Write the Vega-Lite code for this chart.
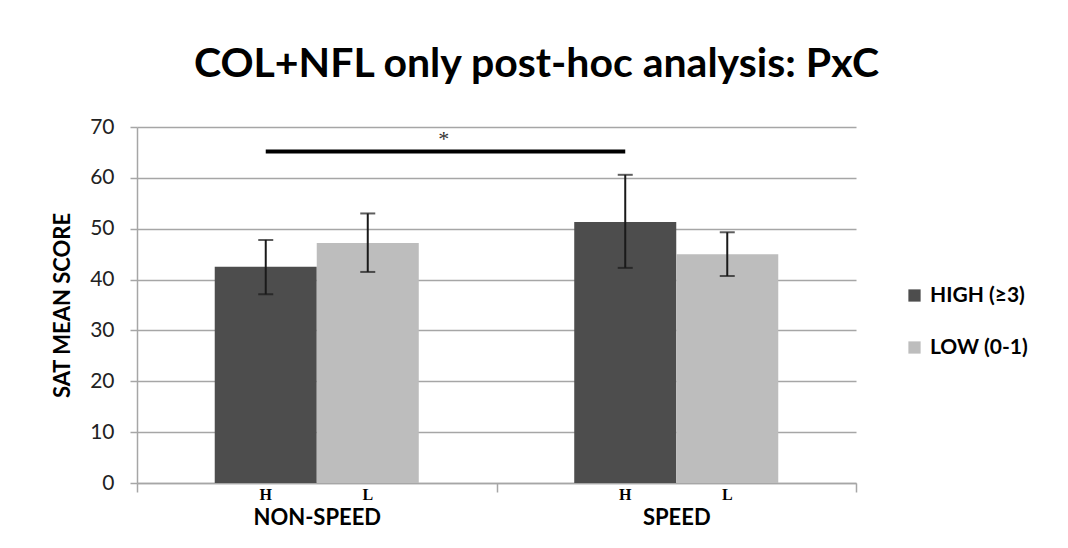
{
  "$schema": "https://vega.github.io/schema/vega-lite/v6.json",
  "autosize": "none",
  "width": 719,
  "height": 356,
  "padding": {"left": 137, "top": 127, "right": 212, "bottom": 65},
  "background": "white",
  "title": {
    "text": "COL+NFL only post-hoc analysis: PxC",
    "font": "Lato",
    "fontSize": 41,
    "fontWeight": "bold",
    "color": "#000000",
    "anchor": "middle",
    "dx": 40,
    "offset": 30
  },
  "config": {
    "view": {"stroke": null},
    "font": "Lato"
  },
  "datasets": {
    "bars": [
      {"group": "NON-SPEED", "level": "H", "series": "HIGH (≥3)", "mean": 42.5, "lo": 37.1, "hi": 47.8},
      {"group": "NON-SPEED", "level": "L", "series": "LOW (0-1)", "mean": 47.2, "lo": 41.5, "hi": 53.0},
      {"group": "SPEED", "level": "H", "series": "HIGH (≥3)", "mean": 51.3, "lo": 42.3, "hi": 60.6},
      {"group": "SPEED", "level": "L", "series": "LOW (0-1)", "mean": 45.0, "lo": 40.7, "hi": 49.3}
    ],
    "sig": [
      {"group": "NON-SPEED", "level": "H", "y": 65.2},
      {"group": "SPEED", "level": "H", "y": 65.2}
    ],
    "star": [
      {"group": "NON-SPEED", "level": "L", "y": 68.3, "label": "*"}
    ]
  },
  "encoding": {
    "x": {
      "field": "group",
      "type": "nominal",
      "sort": ["NON-SPEED", "SPEED"],
      "scale": {"domain": ["NON-SPEED", "SPEED"], "paddingInner": 0, "paddingOuter": 0},
      "axis": {
        "title": null,
        "labelAngle": 0,
        "tickBand": "extent",
        "tickSize": 9,
        "tickColor": "#a6a6a6",
        "tickWidth": 1.5,
        "domainColor": "#a6a6a6",
        "domainWidth": 1.5,
        "labelFont": "Lato",
        "labelFontSize": 22,
        "labelFontWeight": "bold",
        "labelColor": "#000000",
        "labelPadding": 15,
        "grid": false
      }
    },
    "xOffset": {
      "field": "level",
      "type": "nominal",
      "scale": {"domain": ["H", "L"], "paddingInner": 0, "paddingOuter": 0.762}
    }
  },
  "layer": [
    {
      "data": {"name": "bars"},
      "mark": {"type": "bar"},
      "encoding": {
        "y": {
          "field": "mean",
          "type": "quantitative",
          "scale": {"domain": [0, 70], "nice": false},
          "axis": {
            "title": "SAT MEAN SCORE",
            "titleFont": "Lato",
            "titleFontSize": 22,
            "titleFontWeight": "bold",
            "titleColor": "#000000",
            "titlePadding": 15,
            "values": [0, 10, 20, 30, 40, 50, 60, 70],
            "labelFont": "Lato",
            "labelFontSize": 21,
            "labelColor": "#222222",
            "labelPadding": 16,
            "tickSize": 7,
            "tickColor": "#a6a6a6",
            "tickWidth": 1.5,
            "domainColor": "#a6a6a6",
            "domainWidth": 1.5,
            "gridColor": "#a6a6a6",
            "gridWidth": 1.5
          }
        },
        "color": {
          "field": "series",
          "type": "nominal",
          "scale": {"domain": ["HIGH (≥3)", "LOW (0-1)"], "range": ["#4d4d4d", "#bdbdbd"]},
          "legend": {
            "title": null,
            "orient": "none",
            "legendX": 767,
            "legendY": 158,
            "symbolType": "square",
            "symbolSize": 150,
            "symbolStrokeWidth": 0,
            "labelFont": "Lato",
            "labelFontSize": 21,
            "labelFontWeight": "bold",
            "labelColor": "#000000",
            "labelOffset": 5,
            "rowPadding": 30,
            "padding": 0
          }
        }
      }
    },
    {
      "data": {"name": "bars"},
      "mark": {"type": "rule", "color": "#1a1a1a", "strokeWidth": 2},
      "encoding": {
        "y": {"field": "lo", "type": "quantitative"},
        "y2": {"field": "hi"}
      }
    },
    {
      "data": {"name": "bars"},
      "mark": {"type": "tick", "color": "#1a1a1a", "thickness": 2, "size": 15, "orient": "horizontal"},
      "encoding": {
        "y": {"field": "lo", "type": "quantitative"}
      }
    },
    {
      "data": {"name": "bars"},
      "mark": {"type": "tick", "color": "#1a1a1a", "thickness": 2, "size": 15, "orient": "horizontal"},
      "encoding": {
        "y": {"field": "hi", "type": "quantitative"}
      }
    },
    {
      "data": {"name": "bars"},
      "mark": {"type": "text", "font": "Liberation Serif", "fontSize": 16, "fontWeight": "bold", "color": "#000000", "baseline": "middle", "dy": 12},
      "encoding": {
        "y": {"datum": 0, "type": "quantitative"},
        "text": {"field": "level"}
      }
    },
    {
      "data": {"name": "sig"},
      "mark": {"type": "line", "color": "#000000", "strokeWidth": 4, "strokeCap": "butt"},
      "encoding": {
        "y": {"field": "y", "type": "quantitative"}
      }
    },
    {
      "data": {"name": "star"},
      "mark": {"type": "text", "font": "Liberation Serif", "fontSize": 22, "color": "#333333", "baseline": "middle", "dx": 76, "dy": 3},
      "encoding": {
        "y": {"field": "y", "type": "quantitative"},
        "text": {"field": "label"}
      }
    }
  ]
}
